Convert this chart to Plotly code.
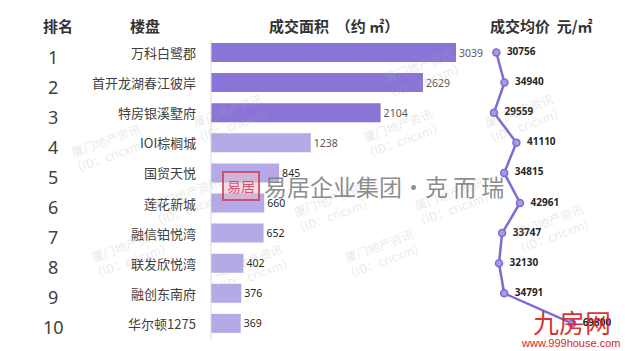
import plotly.graph_objects as go

ranks = ["1", "2", "3", "4", "5", "6", "7", "8", "9", "10"]
names = ["万科白鹭郡", "首开龙湖春江彼岸", "特房银溪墅府", "IOI棕榈城", "国贸天悦",
         "莲花新城", "融信铂悦湾", "联发欣悦湾", "融创东南府", "华尔顿1275"]
areas = [3039, 2629, 2104, 1238, 845, 660, 652, 402, 376, 369]
prices = [30756, 34940, 29559, 41110, 34815, 42961, 33747, 32130, 34791, 69800]
area_colors = ["#8b74d8", "#8b74d8", "#8b74d8"] + ["#b5a9e8"] * 7
label_colors = ["#595959"] * 4 + ["#262626"] * 6

W, H = 625, 351
pos = list(range(len(names)))

CJK = "Noto Sans CJK SC"

fig = go.Figure()

fig.add_trace(go.Bar(
    x=areas, y=pos, orientation="h",
    marker=dict(color=area_colors, line=dict(width=0)),
    width=0.63,
    text=[str(a) for a in areas], textposition="outside",
    textfont=dict(family="Noto Sans", size=10.5, color=label_colors),
    cliponaxis=False, xaxis="x", yaxis="y", hoverinfo="skip",
))

fig.add_trace(go.Scatter(
    x=prices, y=pos, mode="lines+markers+text",
    line=dict(color="#7d6bd4", width=2.5),
    marker=dict(size=7, color="#a898e6", line=dict(color="#7d6bd4", width=1.5)),
    text=["  " + str(p) for p in prices], textposition="middle right",
    textfont=dict(family="Noto Sans", size=10, color="#262626", weight="bold"),
    cliponaxis=False, xaxis="x2", yaxis="y", hoverinfo="skip",
))

# y range: row 0 center at 52.5px, spacing 30.1px
sp = 30.1
y_top = -52.5 / sp
y_bot = (H - 52.5) / sp

ann = []
for i in pos:
    ann.append(dict(x=53 / W, y=i, xref="paper", yref="y", text=ranks[i], showarrow=False,
                    xanchor="center", yanchor="middle", yshift=-4,
                    font=dict(family="Noto Sans", size=18, color="#404040")))
    ann.append(dict(x=198 / W, y=i, xref="paper", yref="y", text=names[i], showarrow=False,
                    xanchor="right", yanchor="middle",
                    font=dict(family=CJK, size=13, color="#404040")))

headers = [("排名", 58), ("楼盘", 145), ("成交面积  （约 ㎡）", 334), ("成交均价  元/㎡", 541)]
for t, xc in headers:
    ann.append(dict(x=xc / W, y=1 - 25 / H, xref="paper", yref="paper", text="<b>" + t + "</b>",
                    showarrow=False, xanchor="center", yanchor="middle",
                    font=dict(family=CJK, size=15, color="#333333")))

# watermarks
wm_pts = [(60, 115), (230, 85), (400, 100), (570, 85), (140, 200), (330, 240),
          (500, 200), (80, 285), (250, 300), (430, 285), (600, 260), (470, 40)]
for (wx, wy) in wm_pts:
    ann.append(dict(x=wx / W, y=1 - wy / H, xref="paper", yref="paper",
                    text="厦门地产资讯<br>（ID：cricxm）", showarrow=False, textangle=-20,
                    font=dict(family=CJK, size=12, color="rgba(170,170,170,0.28)")))

# central logo
ann.append(dict(x=262 / W, y=1 - 186 / H, xref="paper", yref="paper",
                text="易居企业集团·克 而 瑞", showarrow=False, xanchor="left", yanchor="middle",
                font=dict(family=CJK, size=23, color="rgba(120,120,120,0.85)")))
ann.append(dict(x=241 / W, y=1 - 186 / H, xref="paper", yref="paper",
                text="易居", showarrow=False, xanchor="center", yanchor="middle",
                font=dict(family=CJK, size=14, color="rgba(200,40,70,0.75)"),
                bgcolor="rgba(235,190,200,0.55)", bordercolor="rgba(200,60,90,0.8)",
                borderwidth=2, borderpad=3))
# corner logo
ann.append(dict(x=572 / W, y=1 - 321 / H, xref="paper", yref="paper",
                text="九房网", showarrow=False, xanchor="center", yanchor="middle",
                font=dict(family=CJK, size=26, color="rgba(215,30,35,0.92)")))
ann.append(dict(x=570 / W, y=1 - 343 / H, xref="paper", yref="paper",
                text="www.999house.com", showarrow=False, xanchor="center", yanchor="middle",
                font=dict(family="Liberation Sans", size=11, color="#d81e23")))

bar_px0, bar_px1 = 211, 480
bar_scale = 245 / 3039
line_px0 = 480
lx_a, lx_b = 494, 26 / 13402  # pixel = 494 + (p-29559)*lx_b

fig.update_layout(
    width=W, height=H, margin=dict(l=0, r=0, t=0, b=0),
    paper_bgcolor="white", plot_bgcolor="rgba(0,0,0,0)",
    showlegend=False, bargap=0.37,
    xaxis=dict(domain=[bar_px0 / W, bar_px1 / W],
               range=[0, (bar_px1 - bar_px0) / bar_scale],
               visible=False, fixedrange=True),
    xaxis2=dict(domain=[line_px0 / W, 1],
                range=[29559 + (line_px0 - lx_a) / lx_b, 29559 + (W - lx_a) / lx_b],
                visible=False, anchor="y", fixedrange=True),
    yaxis=dict(range=[y_bot, y_top], visible=False, domain=[0, 1], fixedrange=True),
    annotations=ann,
    shapes=[dict(type="line", xref="paper", yref="paper",
                 x0=bar_px0 / W, x1=bar_px0 / W, y0=1 - 40 / H, y1=1 - 340 / H,
                 line=dict(color="#d9d9d9", width=1))],
)

fig.write_html("out.html")
